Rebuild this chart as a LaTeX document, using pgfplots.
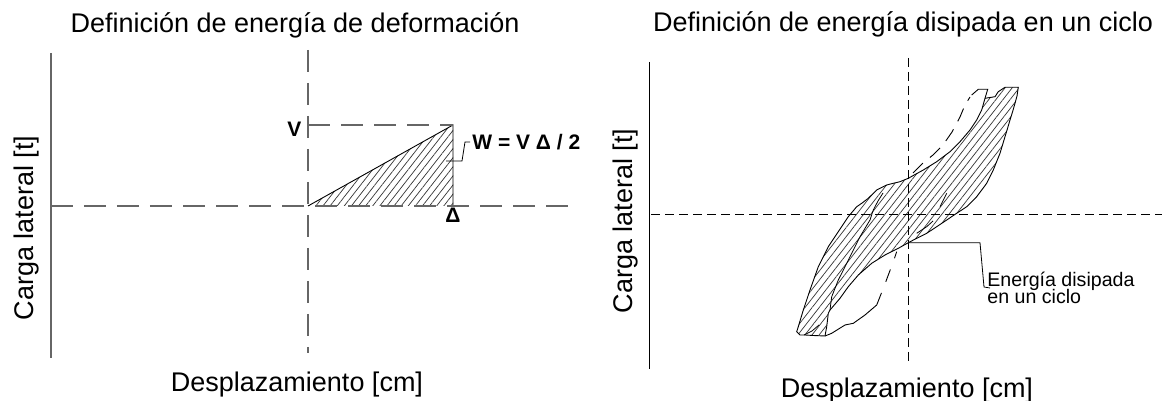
\documentclass[border=0pt]{standalone}
\usepackage{fontspec}
\setmainfont{Liberation Sans}
\usepackage{pgfplots}
\usepackage{pgfplotstable}
\pgfplotsset{compat=1.18}
\usetikzlibrary{patterns.meta}

% one data unit = one pixel of the reference, 0.5pt each
\pgfplotsset{
  sketch/.style={hide axis, scale only axis, clip=false, anchor=south west},
  hatch/.style={draw=none, pattern={Lines[angle=52,distance=2.8pt,line width=0.35pt]}, pattern color=black!80},
}
\tikzset{
  big/.style={font=\fontsize{13.5}{16}\selectfont},
  bold/.style={font=\bfseries\fontsize{10.5}{12}\selectfont},
  small/.style={font=\fontsize{9.8}{11}\selectfont, anchor=base west, inner sep=0pt},
}

\pgfplotstableread{
x y
97 127.7
110.3 127.7
109 119
107 111.7
104.5 103
102 95
99.5 86.5
97 78.3
94.5 70
92 61.7
88.5 53
85.3 45
78.7 31.7
68.7 18.3
58.7 8.3
48.7 1.7
38.7 -5
28.7 -11.7
18.7 -18.3
8.7 -23.3
0.3 -27.7
-9.7 -33.3
-23 -40
-36.3 -48.3
-49.7 -60
-59.7 -71.7
-68 -83.3
-78 -95
-79.7 -98.3
-81.3 -111.7
-83 -121
-95 -120.5
-103 -120
-108 -120
-111.3 -116.7
-109.7 -111.7
-104.7 -95
-98 -75
-89.7 -51.7
-79.7 -31.7
-69.7 -16.7
-59.7 -1.7
-51.3 8.3
-46.3 11.7
-39.7 16.7
-31.3 25
-21.3 30
-14.7 31.7
-8 33.3
0.3 36.7
8 41
15.3 45
28.7 53.3
42 63.3
52 73.3
62 85
68.7 95
73.7 105
77 116.7
87 118.3
90.3 123.3
97 127.7
}\hyst

\begin{document}
\begin{tikzpicture}
\useasboundingbox (0,0) rectangle (581pt,200.5pt);

% ---- left: energia de deformacion
\begin{axis}[sketch, at={(25.5pt,21.5pt)}, width=258.5pt, height=154pt,
  xmin=-257, xmax=260, ymin=-152, ymax=156]
\addplot[hatch] coordinates {(0,0) (145,81) (145,0)} -- cycle;
\addplot[black, line width=0.45pt] coordinates {(0,0) (145,81) (145,0)};
% axes
\addplot[black!60, line width=0.7pt] coordinates {(-257,153) (-257,-152)};
\addplot[black!60, line width=0.7pt, dash pattern=on 11pt off 5.5pt] coordinates {(0,156) (0,-147)};
\addplot[black!60, line width=0.7pt, dash pattern=on 11pt off 5.5pt] coordinates {(-257,0) (260,0)};
\addplot[black!60, line width=0.7pt, dash pattern=on 11pt off 5.5pt] coordinates {(0,81) (145,81)};
% leader
\addplot[black, line width=0.4pt] coordinates {(138,45) (154,45) (157,64) (162,64)};

\node[big, anchor=base] at (axis cs:-13,173) {Definición de energía de deformación};
\node[big, anchor=base] at (axis cs:-11,-186) {Desplazamiento [cm]};
\node[big, anchor=base, rotate=90] at (axis cs:-274,-22) {Carga lateral [t]};
\node[bold, anchor=base] at (axis cs:-13.5,69) {V};
\node[bold, anchor=base] at (axis cs:145,-17) {Δ};
\node[bold, anchor=base west, inner sep=0pt] at (axis cs:164,56) {W = V Δ / 2};
\end{axis}

% ---- right: energia disipada en un ciclo
\begin{axis}[sketch, at={(324.5pt,16pt)}, width=256.5pt, height=155.5pt,
  xmin=-259, xmax=254, ymin=-154, ymax=157]
\addplot[hatch] table {\hyst} -- cycle;
\addplot[black, line width=0.45pt] table {\hyst};
% inner branches
\addplot[black, line width=0.4pt] coordinates {(-78,-95) (-76.3,-81.7) (-69.7,-65) (-63,-51.7) (-56.3,-38.3) (-48,-21.7) (-38,-5) (-34.7,5) (-30,14) (-25,22)};
\addplot[black, line width=0.4pt] coordinates {(-104,-120) (-96,-116) (-89,-110)};
\addplot[black, line width=0.4pt] coordinates {(8.7,-18.3) (18.7,-11.7) (25,-6)};
\addplot[black, line width=0.4pt] coordinates {(32,8.3) (38.7,21.7)};
% lower excursion
\addplot[black, line width=0.45pt] coordinates {(-83,-121) (-76.3,-118.3) (-63,-110) (-54.7,-108.3) (-43,-100) (-31.3,-90)};
\addplot[black, line width=0.45pt, dash pattern=on 6.5pt off 6pt] coordinates {(-31.3,-90) (-24.7,-73.3) (-19.7,-60) (-14.7,-46.7) (-11.3,-36.7)};
% upper excursion
\addplot[black, line width=0.45pt, dash pattern=on 7pt off 4.5pt] coordinates {(5,42) (15,52) (25,60) (35,70) (44,83) (52,98) (57,110) (62,118)};
\addplot[black, line width=0.45pt] coordinates {(63.7,120) (70.3,125.7) (79.7,125.7) (77,116.7)};
% axes
\addplot[black, line width=0.5pt] coordinates {(-259,153) (-259,-154)};
\addplot[black, line width=0.5pt, dash pattern=on 4.5pt off 2.5pt] coordinates {(0,157) (0,-148)};
\addplot[black, line width=0.5pt, dash pattern=on 4.5pt off 2.5pt] coordinates {(-257,0) (254,0)};
% leader
\addplot[black, line width=0.4pt] coordinates {(0,-27.7) (72,-27.7) (76,-72) (82,-73)};

\node[big, anchor=base] at (axis cs:-5,183) {Definición de energía disipada en un ciclo};
\node[big, anchor=base] at (axis cs:-1,-183) {Desplazamiento [cm]};
\node[big, anchor=base, rotate=90] at (axis cs:-276,-6) {Carga lateral [t]};
\node[small] at (axis cs:79,-72) {Energía disipada};
\node[small] at (axis cs:79,-89) {en un ciclo};
\end{axis}
\end{tikzpicture}
\end{document}
